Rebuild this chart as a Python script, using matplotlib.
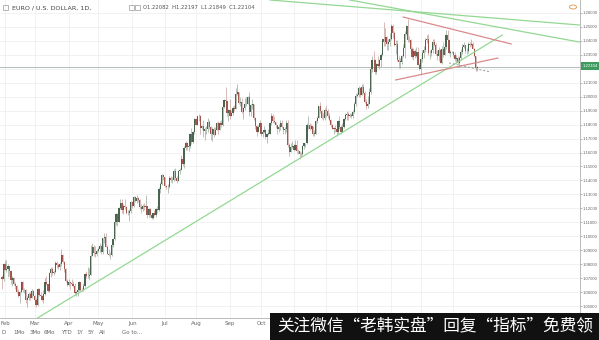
import numpy as np
import pandas as pd
import matplotlib
matplotlib.use("Agg")
import matplotlib.pyplot as plt
from matplotlib.patches import Rectangle, Circle

# ---------------- data (EUR/USD daily) ----------------
start_date = "2017-01-30"
first_open = 1.0710

close = [
    1.0695, 1.0800,
    1.0760, 1.0765, 1.0785, 1.0750, 1.0685, 1.0700, 1.0660, 1.0640, 1.0600, 1.0575,
    1.0600, 1.0670, 1.0615, 1.0615, 1.0540, 1.0560, 1.0585, 1.0560, 1.0605, 1.0575,
    1.0545, 1.0505, 1.0620, 1.0580, 1.0570, 1.0545, 1.0585, 1.0670, 1.0655, 1.0605,
    1.0735, 1.0765, 1.0740, 1.0745, 1.0810, 1.0795, 1.0780, 1.0800, 1.0865, 1.0815,
    1.0765, 1.0680, 1.0650,
    1.0670, 1.0665, 1.0660, 1.0645, 1.0590, 1.0600, 1.0615, 1.0670, 1.0615, 1.0615,
    1.0640, 1.0730, 1.0715, 1.0715, 1.0725, 1.0860, 1.0925, 1.0880, 1.0875, 1.0895,
    1.0905, 1.0930, 1.0885, 1.0985, 1.0995, 1.0925, 1.0875, 1.0865, 1.0865, 1.0935,
    1.0980, 1.1100, 1.1160, 1.1105, 1.1205, 1.1240, 1.1185, 1.1215, 1.1210, 1.1165,
    1.1165, 1.1180, 1.1245,
    1.1215, 1.1280, 1.1250, 1.1275, 1.1260, 1.1210, 1.1195, 1.1215, 1.1210, 1.1220,
    1.1150, 1.1195, 1.1150, 1.1130, 1.1165, 1.1150, 1.1195, 1.1185, 1.1340, 1.1375,
    1.1440, 1.1425,
    1.1360, 1.1350, 1.1350, 1.1420, 1.1400, 1.1400, 1.1465, 1.1415, 1.1395, 1.1470,
    1.1475, 1.1555, 1.1515, 1.1630, 1.1665, 1.1640, 1.1650, 1.1730, 1.1675, 1.1750,
    1.1840,
    1.1800, 1.1860, 1.1860, 1.1775, 1.1790, 1.1755, 1.1765, 1.1765, 1.1820, 1.1780,
    1.1735, 1.1770, 1.1725, 1.1760, 1.1815, 1.1760, 1.1810, 1.1800, 1.1925, 1.1975,
    1.1970, 1.1885, 1.1905,
    1.1860, 1.1885, 1.1920, 1.1915, 1.2020, 1.2035, 1.1955, 1.1965, 1.1890, 1.1920,
    1.1945, 1.1950, 1.1995, 1.1890, 1.1940, 1.1950, 1.1850, 1.1790, 1.1750, 1.1785,
    1.1815,
    1.1735, 1.1745, 1.1760, 1.1710, 1.1735, 1.1735, 1.1810, 1.1860, 1.1825, 1.1820,
    1.1795, 1.1765, 1.1785, 1.1815, 1.1785, 1.1760, 1.1765, 1.1815, 1.1655, 1.1605,
    1.1640, 1.1645,
    1.1620, 1.1655, 1.1610, 1.1610, 1.1590, 1.1590, 1.1645, 1.1665, 1.1665, 1.1795,
    1.1795, 1.1770, 1.1790, 1.1735, 1.1735, 1.1825, 1.1850, 1.1930, 1.1895, 1.1845,
    1.1845, 1.1905,
    1.1895, 1.1865, 1.1830, 1.1795, 1.1770, 1.1775, 1.1770, 1.1745, 1.1825, 1.1780,
    1.1750, 1.1785, 1.1840, 1.1870, 1.1875, 1.1860, 1.1870, 1.1860, 1.1890, 1.1945,
    1.2005,
    1.2010, 1.2060, 1.2015, 1.2070, 1.2030, 1.1965, 1.1935, 1.1945, 1.2035, 1.2200,
    1.2265, 1.2260, 1.2180, 1.2235, 1.2220, 1.2260, 1.2300, 1.2410, 1.2395, 1.2425,
    1.2380, 1.2395, 1.2415,
    1.2510, 1.2460, 1.2370, 1.2375, 1.2265, 1.2250, 1.2250, 1.2290, 1.2350, 1.2450,
    1.2505, 1.2405, 1.2405, 1.2340, 1.2285, 1.2330, 1.2295, 1.2320, 1.2230, 1.2195,
    1.2270, 1.2315, 1.2335, 1.2405, 1.2410, 1.2310, 1.2310, 1.2335, 1.2390, 1.2370,
    1.2305, 1.2290, 1.2335, 1.2240, 1.2345, 1.2300, 1.2355, 1.2445, 1.2405, 1.2310,
    1.2320, 1.2320,
    1.2300, 1.2270, 1.2275, 1.2240, 1.2280, 1.2320, 1.2355, 1.2370, 1.2325, 1.2330,
    1.2380, 1.2370, 1.2375, 1.2345, 1.2290, 1.2208, 1.22104,
]

high = [
    1.0720, 1.0810,
    1.0829, 1.0830, 1.0800, 1.0790, 1.0760, 1.0712, 1.0710, 1.0675, 1.0650, 1.0620,
    1.0610, 1.0680, 1.0680, 1.0630, 1.0620, 1.0570, 1.0600, 1.0600, 1.0620, 1.0615,
    1.0580, 1.0555, 1.0630, 1.0630, 1.0600, 1.0580, 1.0615, 1.0700, 1.0715, 1.0660,
    1.0745, 1.0780, 1.0780, 1.0760, 1.0820, 1.0820, 1.0805, 1.0815, 1.0905, 1.0875,
    1.0820, 1.0775, 1.0690,
    1.0690, 1.0675, 1.0690, 1.0680, 1.0665, 1.0610, 1.0630, 1.0680, 1.0675, 1.0630,
    1.0665, 1.0740, 1.0750, 1.0780, 1.0775, 1.0935, 1.0950, 1.0935, 1.0930, 1.0905,
    1.0920, 1.0950, 1.0935, 1.0990, 1.1020, 1.1025, 1.0935, 1.0905, 1.0890, 1.0945,
    1.0990, 1.1110, 1.1170, 1.1170, 1.1210, 1.1265, 1.1270, 1.1230, 1.1270, 1.1215,
    1.1190, 1.1195, 1.1255,
    1.1255, 1.1285, 1.1285, 1.1295, 1.1280, 1.1270, 1.1230, 1.1230, 1.1235, 1.1295,
    1.1215, 1.1200, 1.1205, 1.1160, 1.1170, 1.1185, 1.1200, 1.1215, 1.1350, 1.1390,
    1.1445, 1.1445,
    1.1420, 1.1370, 1.1375, 1.1430, 1.1430, 1.1425, 1.1480, 1.1490, 1.1435, 1.1475,
    1.1490, 1.1585, 1.1560, 1.1645, 1.1680, 1.1675, 1.1710, 1.1740, 1.1775, 1.1755,
    1.1845,
    1.1845, 1.1865, 1.1875, 1.1870, 1.1800, 1.1830, 1.1780, 1.1790, 1.1845, 1.1830,
    1.1790, 1.1780, 1.1780, 1.1780, 1.1820, 1.1825, 1.1825, 1.1830, 1.1940, 1.1985,
    1.2070, 1.1975, 1.1915,
    1.1980, 1.1905, 1.1930, 1.1940, 1.2060, 1.2090, 1.2010, 1.1995, 1.1990, 1.1925,
    1.1990, 1.1995, 1.2005, 1.2035, 1.1950, 1.1985, 1.1950, 1.1855, 1.1800, 1.1800,
    1.1830,
    1.1815, 1.1760, 1.1790, 1.1765, 1.1740, 1.1765, 1.1820, 1.1880, 1.1875, 1.1860,
    1.1815, 1.1800, 1.1805, 1.1830, 1.1835, 1.1780, 1.1785, 1.1830, 1.1830, 1.1665,
    1.1665, 1.1680,
    1.1660, 1.1690, 1.1690, 1.1625, 1.1605, 1.1605, 1.1655, 1.1670, 1.1670, 1.1810,
    1.1860, 1.1815, 1.1805, 1.1790, 1.1760, 1.1835, 1.1860, 1.1935, 1.1960, 1.1905,
    1.1880, 1.1920,
    1.1940, 1.1910, 1.1880, 1.1840, 1.1805, 1.1780, 1.1795, 1.1785, 1.1830, 1.1860,
    1.1795, 1.1810, 1.1850, 1.1885, 1.1900, 1.1890, 1.1880, 1.1885, 1.1905, 1.1960,
    1.2025,
    1.2025, 1.2080, 1.2070, 1.2090, 1.2090, 1.2040, 1.1980, 1.2005, 1.2060, 1.2215,
    1.2295, 1.2325, 1.2270, 1.2245, 1.2295, 1.2270, 1.2310, 1.2415, 1.2535, 1.2495,
    1.2435, 1.2415, 1.2455,
    1.2520, 1.2520, 1.2470, 1.2405, 1.2405, 1.2290, 1.2280, 1.2300, 1.2375, 1.2470,
    1.2515, 1.2555, 1.2435, 1.2415, 1.2355, 1.2350, 1.2345, 1.2355, 1.2355, 1.2245,
    1.2275, 1.2335, 1.2365, 1.2420, 1.2445, 1.2450, 1.2335, 1.2345, 1.2410, 1.2410,
    1.2385, 1.2335, 1.2355, 1.2340, 1.2360, 1.2390, 1.2375, 1.2475, 1.2475, 1.2410,
    1.2335, 1.2330,
    1.2330, 1.2320, 1.2300, 1.2295, 1.2290, 1.2340, 1.2380, 1.2395, 1.2370, 1.2350,
    1.2395, 1.2390, 1.2415, 1.2395, 1.2350, 1.2295, 1.22197,
]

low = [
    1.0620, 1.0680,
    1.0755, 1.0745, 1.0710, 1.0716, 1.0660, 1.0640, 1.0650, 1.0620, 1.0590, 1.0565,
    1.0520, 1.0590, 1.0600, 1.0590, 1.0525, 1.0495, 1.0540, 1.0545, 1.0560, 1.0570,
    1.0510, 1.0495, 1.0500, 1.0570, 1.0560, 1.0535, 1.0525, 1.0580, 1.0650, 1.0600,
    1.0600, 1.0710, 1.0725, 1.0720, 1.0740, 1.0775, 1.0765, 1.0760, 1.0785, 1.0810,
    1.0745, 1.0675, 1.0645,
    1.0640, 1.0625, 1.0650, 1.0635, 1.0580, 1.0570, 1.0570, 1.0605, 1.0610, 1.0605,
    1.0605, 1.0635, 1.0700, 1.0700, 1.0685, 1.0820, 1.0855, 1.0860, 1.0850, 1.0855,
    1.0885, 1.0890, 1.0875, 1.0875, 1.0950, 1.0920, 1.0870, 1.0860, 1.0840, 1.0860,
    1.0920, 1.0975, 1.1080, 1.1075, 1.1105, 1.1195, 1.1165, 1.1160, 1.1195, 1.1160,
    1.1150, 1.1110, 1.1170,
    1.1200, 1.1210, 1.1245, 1.1240, 1.1245, 1.1195, 1.1170, 1.1180, 1.1190, 1.1195,
    1.1130, 1.1140, 1.1140, 1.1120, 1.1120, 1.1145, 1.1140, 1.1165, 1.1180, 1.1310,
    1.1370, 1.1400,
    1.1350, 1.1335, 1.1310, 1.1345, 1.1390, 1.1385, 1.1395, 1.1405, 1.1385, 1.1395,
    1.1445, 1.1475, 1.1500, 1.1490, 1.1615, 1.1615, 1.1610, 1.1630, 1.1660, 1.1665,
    1.1730,
    1.1795, 1.1800, 1.1825, 1.1730, 1.1770, 1.1710, 1.1690, 1.1730, 1.1750, 1.1770,
    1.1690, 1.1680, 1.1710, 1.1730, 1.1760, 1.1730, 1.1760, 1.1785, 1.1790, 1.1920,
    1.1940, 1.1865, 1.1825,
    1.1840, 1.1860, 1.1870, 1.1895, 1.1925, 1.2010, 1.1945, 1.1935, 1.1880, 1.1840,
    1.1905, 1.1935, 1.1945, 1.1865, 1.1860, 1.1915, 1.1835, 1.1770, 1.1720, 1.1745,
    1.1785,
    1.1715, 1.1710, 1.1740, 1.1700, 1.1670, 1.1725, 1.1730, 1.1795, 1.1815, 1.1810,
    1.1775, 1.1730, 1.1750, 1.1760, 1.1775, 1.1730, 1.1735, 1.1750, 1.1640, 1.1575,
    1.1610, 1.1630,
    1.1610, 1.1615, 1.1600, 1.1590, 1.1555, 1.1570, 1.1585, 1.1625, 1.1640, 1.1660,
    1.1770, 1.1760, 1.1765, 1.1720, 1.1715, 1.1730, 1.1815, 1.1845, 1.1885, 1.1840,
    1.1830, 1.1830,
    1.1855, 1.1850, 1.1825, 1.1780, 1.1765, 1.1730, 1.1745, 1.1720, 1.1730, 1.1770,
    1.1735, 1.1745, 1.1775, 1.1835, 1.1835, 1.1830, 1.1855, 1.1845, 1.1850, 1.1885,
    1.1935,
    1.1995, 1.2000, 1.2000, 1.2010, 1.2020, 1.1955, 1.1915, 1.1920, 1.1950, 1.2020,
    1.2180, 1.2215, 1.2165, 1.2160, 1.2215, 1.2200, 1.2215, 1.2295, 1.2365, 1.2365,
    1.2335, 1.2335, 1.2365,
    1.2405, 1.2420, 1.2360, 1.2305, 1.2255, 1.2205, 1.2205, 1.2235, 1.2285, 1.2275,
    1.2440, 1.2395, 1.2390, 1.2335, 1.2280, 1.2260, 1.2280, 1.2285, 1.2225, 1.2190,
    1.2155, 1.2250, 1.2275, 1.2320, 1.2385, 1.2300, 1.2270, 1.2295, 1.2310, 1.2365,
    1.2300, 1.2260, 1.2255, 1.2240, 1.2235, 1.2285, 1.2300, 1.2340, 1.2390, 1.2305,
    1.2285, 1.2310,
    1.2285, 1.2255, 1.2245, 1.2235, 1.2215, 1.2265, 1.2305, 1.2350, 1.2315, 1.2305,
    1.2315, 1.2355, 1.2365, 1.2340, 1.2285, 1.2185, 1.21849,
]

last_price = 1.22104
price_ticks = [1.05, 1.06, 1.07, 1.08, 1.09, 1.10, 1.11, 1.12, 1.13, 1.14, 1.15,
               1.16, 1.17, 1.18, 1.19, 1.20, 1.21, 1.22, 1.23, 1.24, 1.25, 1.26]
month_labels = ["Feb", "Mar", "Apr", "May", "Jun", "Jul", "Aug", "Sep", "Oct",
                "Nov", "Dec", "2018", "Feb", "Mar", "Apr"]
title_text = "EURO / U.S. DOLLAR, 1D,"
ohlc_text = "O1.22082  H1.22197  L1.21849  C1.22104"
range_buttons = ["D", "1Mo", "3Mo", "6Mo", "YTD", "1Y", "5Y", "All", "Go to..."]
watermark = "关注微信“老韩实盘”回复“指标”免费领"

# trend lines drawn on the chart: (date, price) anchor pairs
green_lines = [
    (("2017-03-03", 1.0414), ("2018-05-17", 1.2442)),
    (("2017-10-10", 1.2693), ("2018-07-30", 1.2514)),
    (("2017-12-25", 1.2693), ("2018-07-30", 1.2392)),
]
red_lines = [
    (("2018-02-13", 1.2571), ("2018-05-25", 1.2378)),
    (("2018-02-06", 1.2120), ("2018-05-14", 1.2277)),
]
dash_lines = [
    (("2018-03-28", 1.2242), ("2018-05-07", 1.2177)),
]

# ---------------- figure ----------------
W, H = 599, 340
fig = plt.figure(figsize=(W / 100, H / 100), dpi=100)
fig.patch.set_facecolor("white")
plt.rcParams["font.family"] = ["DejaVu Sans"]
axis_font = ["Liberation Sans", "DejaVu Sans"]

ax = fig.add_axes([0, 22 / H, 580 / W, 318 / H])
n = len(close)
dates = pd.bdate_range(start_date, periods=n)
xs = np.arange(n)
opens = np.array([first_open] + close[:-1])
c = np.array(close)
hi = np.maximum(np.array(high), np.maximum(opens, c))
lo = np.minimum(np.array(low), np.minimum(opens, c))
up = c >= opens

def didx(d):
    return np.busday_count(np.datetime64(start_date), np.datetime64(d))

up_col, dn_col = "#4a6450", "#a4574f"
wick_up, wick_dn = "#98a89b", "#c9a09b"
ax.vlines(xs[up], lo[up], hi[up], colors=wick_up, lw=0.5, zorder=3)
ax.vlines(xs[~up], lo[~up], hi[~up], colors=wick_dn, lw=0.5, zorder=3)
body_h = np.maximum(np.abs(c - opens), 0.00025)
ax.bar(xs[up], body_h[up], bottom=np.minimum(opens, c)[up], width=0.8,
       color=up_col, lw=0, zorder=4)
ax.bar(xs[~up], body_h[~up], bottom=np.minimum(opens, c)[~up], width=0.8,
       color=dn_col, lw=0, zorder=4)

for (d0, p0), (d1, p1) in green_lines:
    ax.plot([didx(d0), didx(d1)], [p0, p1], color="#93d893", lw=0.9, zorder=5)
for (d0, p0), (d1, p1) in red_lines:
    ax.plot([didx(d0), didx(d1)], [p0, p1], color="#d98a8a", lw=0.9, zorder=5)
for (d0, p0), (d1, p1) in dash_lines:
    ax.plot([didx(d0), didx(d1)], [p0, p1], color="#9a9a9a", lw=0.7,
            ls=(0, (2, 2)), zorder=5)

ax.axhline(last_price, color="#a9b5a9", lw=0.6, zorder=2)

ax.set_xlim(-1.38, 390.5)
ax.set_ylim(1.0414, 1.2693)

# month ticks (labels under the watermark band are hidden in the reference)
month_first = [i for i in range(1, n) if dates[i].month != dates[i - 1].month]
ax.set_xticks(month_first)
shown = 9
ax.set_xticklabels([t if k < shown else "" for k, t in
                    enumerate(month_labels[:len(month_first)])],
                   fontsize=4, color="#666666")
# the 1.22 label sits under the last-price tag
ax.set_yticks(price_ticks)
ax.set_yticklabels(["" if abs(v - 1.22) < 1e-9 else "%.5f" % v for v in price_ticks],
                   fontsize=3.1, color="#666666", family=axis_font)
ax.yaxis.tick_right()
ax.tick_params(axis="y", length=1.5, width=0.5, color="#999999", pad=0.6)
ax.tick_params(axis="x", length=0, pad=2.5)
ax.grid(True, color="#ededed", lw=0.5, zorder=0)
for s in ["top", "left"]:
    ax.spines[s].set_visible(False)
for s in ["right", "bottom"]:
    ax.spines[s].set_color("#b0b0b0")
    ax.spines[s].set_linewidth(0.6)

# texts
def fx(x):
    return x / W
def fy(y):
    return 1 - y / H

fig.text(fx(12), fy(7.5), title_text, fontsize=4.6, color="#444444", va="center")
fig.text(fx(143), fy(7.5), ohlc_text, fontsize=3.8, color="#555555", va="center")
for bx in (3, 129, 135):
    fig.patches.append(Rectangle((fx(bx), fy(10)), 5 / W, 5 / H,
                                 transform=fig.transFigure, fill=False,
                                 ec="#999999", lw=0.5))
fig.patches.append(Circle((fx(573), fy(7)), 3.5 / W, transform=fig.transFigure,
                          fill=False, ec="#e0a060", lw=0.7))

# price tag
fig.patches.append(Rectangle((fx(580.5), fy(70)), 18.5 / W, 8 / H,
                             transform=fig.transFigure, fc="#3f9a5d", ec="none"))
fig.text(fx(582.5), fy(66), "%.5f" % last_price, fontsize=3.1, color="white",
         va="center", ha="left", family=axis_font)

btn_x = [1, 13, 30, 44, 61, 76, 88, 99, 122]
for bx, t in zip(btn_x, range_buttons):
    fig.text(fx(bx), fy(332), t, fontsize=4, color="#666666", va="center")

# watermark band
fig.patches.append(Rectangle((fx(270), 0), (W - 270) / W, 27 / H,
                             transform=fig.transFigure, fc="#111111", ec="none",
                             zorder=10))
fig.text(fx(277), fy(326.5), watermark, fontsize=12, color="white", va="center",
         family=["Noto Sans CJK SC", "DejaVu Sans"], zorder=11)

fig.savefig("out.png", dpi=100)
